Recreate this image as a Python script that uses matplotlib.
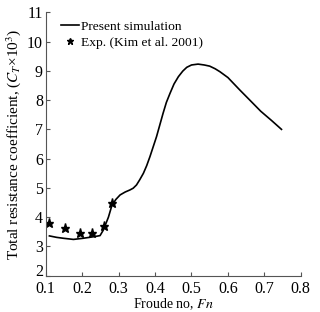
import matplotlib
matplotlib.use("Agg")
import matplotlib.pyplot as plt
import matplotlib.transforms as mtransforms

# present simulation curve
sim_fn = [0.11, 0.13, 0.148, 0.176, 0.203, 0.225, 0.24, 0.249, 0.258, 0.265, 0.272,
          0.281, 0.292, 0.304, 0.318, 0.331, 0.340, 0.349, 0.358, 0.368, 0.377, 0.386,
          0.395, 0.404, 0.413, 0.422, 0.431, 0.441, 0.452, 0.464, 0.476, 0.487, 0.50,
          0.518, 0.535, 0.55, 0.565, 0.578, 0.60, 0.633, 0.66, 0.69, 0.72, 0.747]
sim_ct = [3.36, 3.31, 3.28, 3.24, 3.28, 3.32, 3.35, 3.37, 3.56, 3.78, 4.0,
          4.38, 4.6, 4.76, 4.86, 4.93, 4.99, 5.10, 5.28, 5.50, 5.76, 6.07,
          6.41, 6.75, 7.15, 7.55, 7.92, 8.23, 8.55, 8.80, 8.99, 9.12, 9.2,
          9.23, 9.2, 9.16, 9.07, 8.97, 8.77, 8.34, 8.0, 7.62, 7.3, 7.0]

# experiment, Kim et al. 2001
exp_fn = [0.108, 0.153, 0.195, 0.228, 0.261, 0.283]
exp_ct = [3.79, 3.63, 3.47, 3.47, 3.69, 4.49]

plt.rcParams["font.family"] = ["Liberation Serif", "DejaVu Serif"]
plt.rcParams["mathtext.fontset"] = "stix"

fig = plt.figure(figsize=(3.2, 3.12), dpi=100)
ax = fig.add_axes([0.143, 0.1163, 0.797, 0.8443])

ax.plot(sim_fn, sim_ct, color="black", lw=1.2, label="Present simulation")
ax.plot(exp_fn, exp_ct, ls="none", marker="*", color="black", ms=6.5,
        label="Exp. (Kim et al. 2001)")

ax.set_xlim(0.1, 0.8)
ax.set_ylim(2, 11)
ax.set_xticks([0.1, 0.2, 0.3, 0.4, 0.5, 0.6, 0.7, 0.8])
ax.set_yticks(range(2, 12))
ax.set_xticklabels(["0.1", "0.2", "0.3", "0.4", "0.5", "0.6", "0.7", "0.8"])

for s in ["top", "right"]:
    ax.spines[s].set_visible(False)
for s in ["left", "bottom"]:
    ax.spines[s].set_color("#555555")
    ax.spines[s].set_linewidth(0.8)

ax.tick_params(direction="in", length=3, width=0.8, color="#555555",
               labelsize=11.5, pad=2)
ax.tick_params(axis="x", pad=3.5)

# the "2" sits a little above the corner so it clears "0.1"
lbl = ax.get_yticklabels()[0]
lbl.set_transform(lbl.get_transform() +
                  mtransforms.ScaledTranslation(0, 4 / 72, fig.dpi_scale_trans))

ax.set_xlabel("Froude no, $\\it{Fn}$", fontsize=10, labelpad=0)
ax.set_ylabel("Total resistance coefficient, ($C_T$\u00d710$^3$)", fontsize=11, labelpad=3)

ax.legend(loc="upper left", bbox_to_anchor=(0.03, 1.0), frameon=False,
          fontsize=9.7, handlelength=1.3, handletextpad=0.15, borderaxespad=0.2,
          labelspacing=0.25, markerscale=0.75)

fig.savefig("out.png", dpi=100)
